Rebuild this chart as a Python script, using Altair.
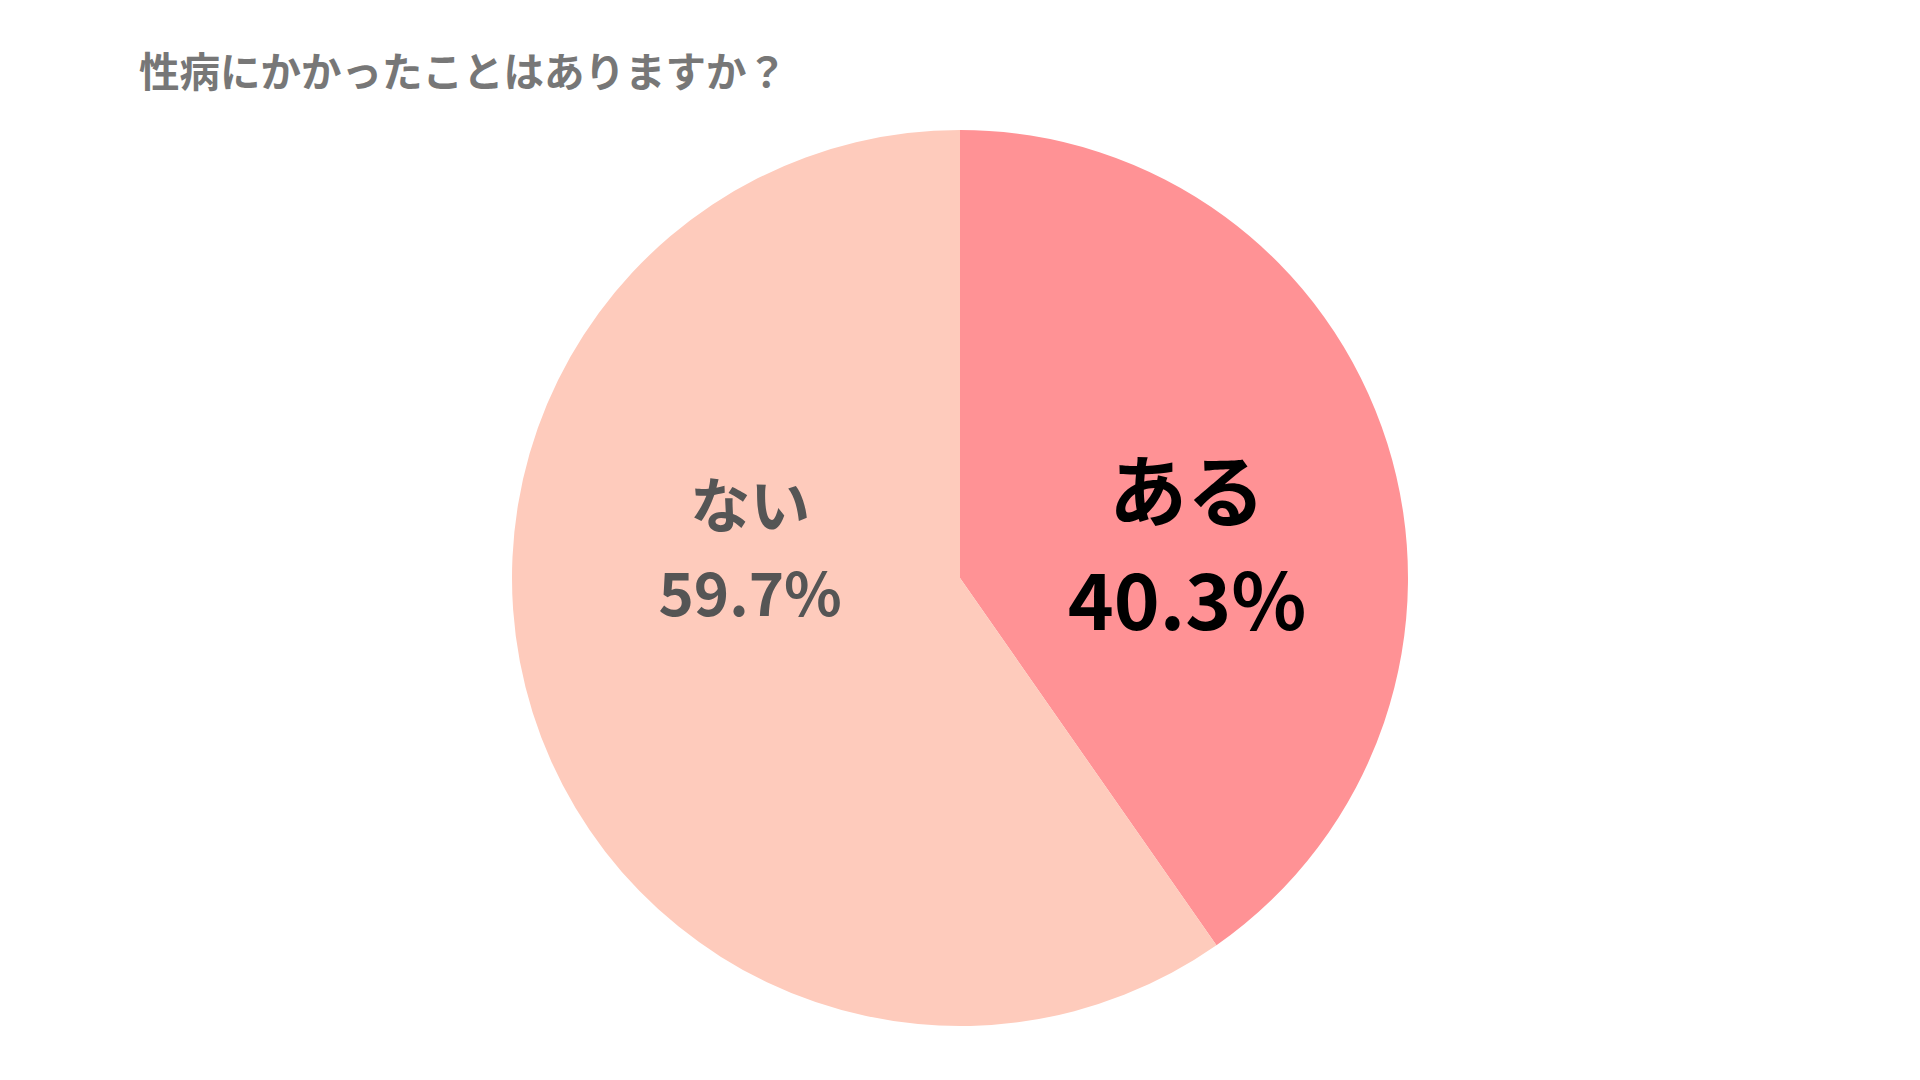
import altair as alt
import pandas as pd

categories = ["ある", "ない"]
values = [40.3, 59.7]
pct_labels = ["40.3%", "59.7%"]
orders = [1, 2]
slice_colors = ["#FF9295", "#FECBBC"]
title_text = "性病にかかったことはありますか？"

df = pd.DataFrame({"category": categories, "value": values, "pct": pct_labels, "order": orders})

FONT = "Noto Sans CJK JP"

base = alt.Chart(df).encode(
    theta=alt.Theta("value:Q", stack=True),
    order=alt.Order("order:Q"),
)

pie = base.mark_arc(outerRadius=448, stroke=None).encode(
    color=alt.Color("category:N", scale=alt.Scale(domain=categories, range=slice_colors), legend=None)
)


def label_layer(cat, field, size, color, radius, dy):
    return base.mark_text(
        font=FONT, fontWeight="bold", fontSize=size, color=color,
        radius=radius, dy=dy, align="center", baseline="middle",
    ).encode(
        text=alt.condition(f"datum.category == '{cat}'", f"{field}:N", alt.value(""))
    )


aru_name = label_layer("ある", "category", 78, "#000000", 238, -9)
aru_pct = label_layer("ある", "pct", 78, "#000000", 238, 100)
nai_name = label_layer("ない", "category", 60, "#555555", 220, -134)
nai_pct = label_layer("ない", "pct", 60, "#555555", 220, -46)

chart = alt.layer(pie, aru_name, aru_pct, nai_name, nai_pct).properties(
    width=1904,
    height=988,
    padding={"left": 0, "top": 76, "right": 0, "bottom": 0},
    autosize=alt.AutoSizeParams(type="none"),
    title=alt.TitleParams(
        text=title_text, anchor="start", frame="group", orient="top",
        font=FONT, fontWeight="bold", fontSize=40.5, color="#777777",
        baseline="middle", offset=0, dx=131, dy=31,
    ),
).configure_view(stroke=None)

chart.save("out.html", embed_options={"renderer": "svg", "actions": False})
